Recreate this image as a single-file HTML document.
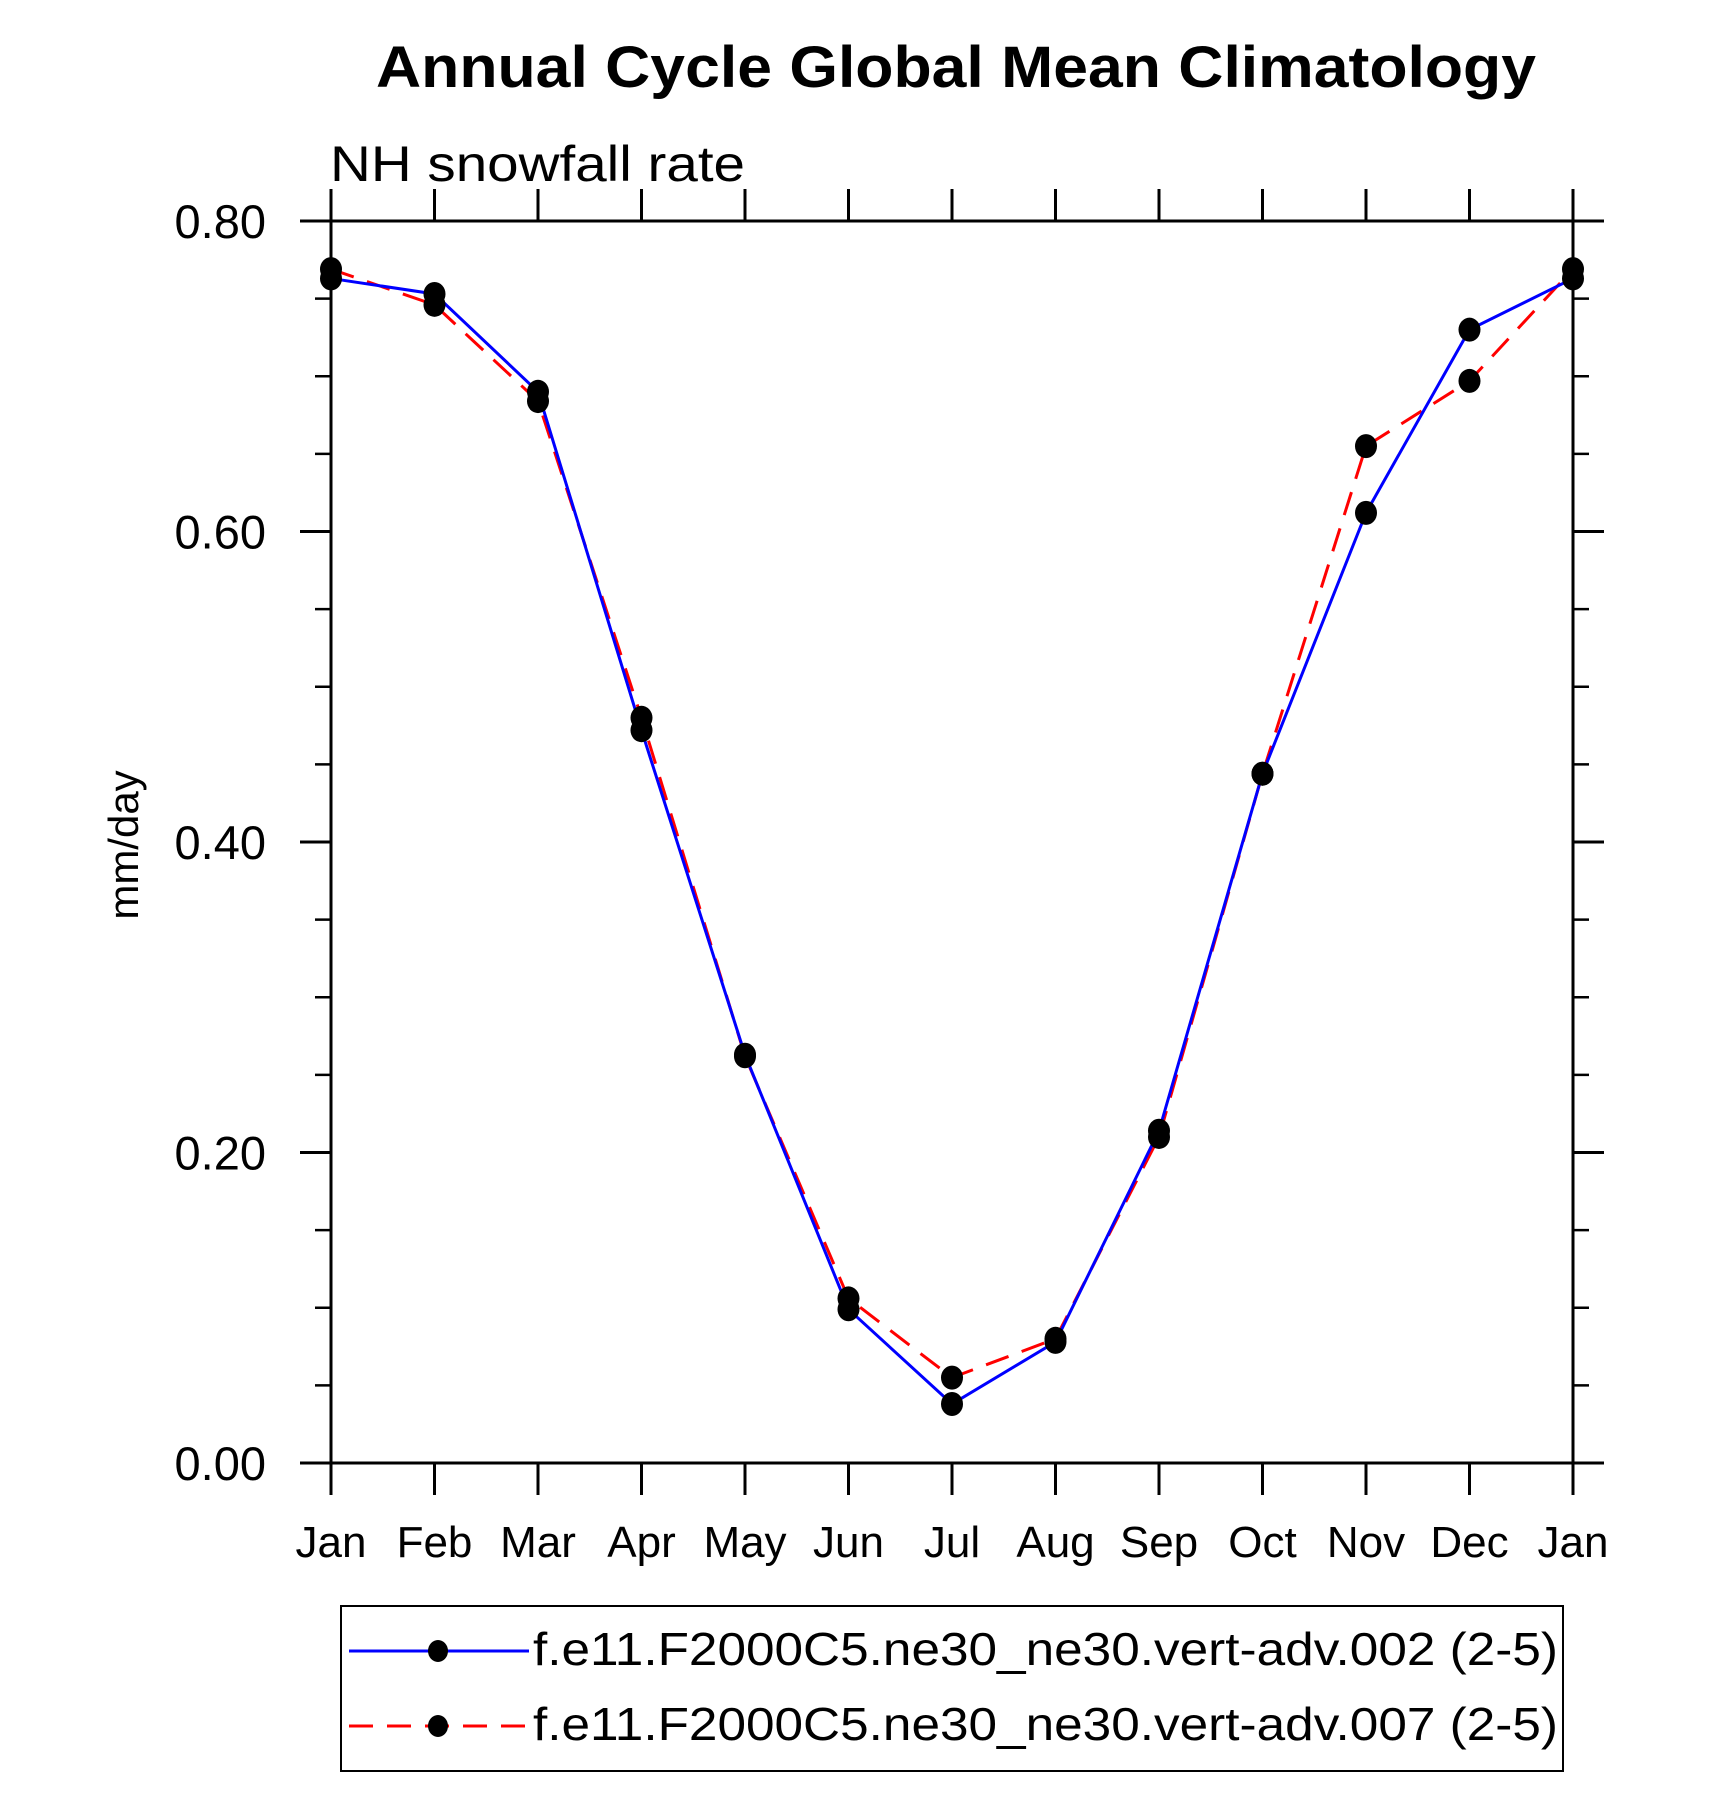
<!DOCTYPE html>
<html><head><meta charset="utf-8"><style>html,body{margin:0;padding:0;background:#fff}svg{display:block}</style></head>
<body>
<svg id="chart" width="1710" height="1813" viewBox="0 0 1710 1813" xmlns="http://www.w3.org/2000/svg" font-family="'Liberation Sans', Arial, sans-serif">
<text x="956" y="87" font-size="58" font-weight="bold" text-anchor="middle" textLength="1160" lengthAdjust="spacingAndGlyphs">Annual Cycle Global Mean Climatology</text>
<text x="330" y="181" font-size="50" textLength="415" lengthAdjust="spacingAndGlyphs">NH snowfall rate</text>
<text transform="translate(138,845) rotate(-90)" font-size="42" text-anchor="middle">mm/day</text>
<g id="axes"></g>
<g id="series"></g>
<g>
<rect x="341" y="1606" width="1222" height="165" fill="none" stroke="#000" stroke-width="2"/>
<g>
<line x1="349" y1="1651" x2="529" y2="1651" stroke="#0000ff" stroke-width="3"/>
<ellipse cx="438" cy="1651" rx="10" ry="11" fill="#000"/>
<text x="533" y="1665" font-size="46" textLength="1025" lengthAdjust="spacingAndGlyphs">f.e11.F2000C5.ne30_ne30.vert-adv.002 (2-5)</text>
</g>
<g>
<line x1="349" y1="1726" x2="529" y2="1726" stroke="#ff0000" stroke-width="3" stroke-dasharray="24,14"/>
<ellipse cx="438" cy="1726" rx="10" ry="11" fill="#000"/>
<text x="533" y="1740" font-size="46" textLength="1025" lengthAdjust="spacingAndGlyphs">f.e11.F2000C5.ne30_ne30.vert-adv.007 (2-5)</text>
</g>
</g>
</svg>
<script>
const months = ["Jan","Feb","Mar","Apr","May","Jun","Jul","Aug","Sep","Oct","Nov","Dec","Jan"];
const run002 = [0.763,0.753,0.690,0.472,0.263,0.099,0.038,0.078,0.214,0.444,0.612,0.730,0.763];
const run007 = [0.769,0.746,0.684,0.480,0.262,0.106,0.055,0.080,0.210,0.444,0.655,0.697,0.769];
const yTicks = [0,0.2,0.4,0.6,0.8];
const yTickLabels = ["0.00","0.20","0.40","0.60","0.80"];
const yMinor = [0.05,0.1,0.15,0.25,0.3,0.35,0.45,0.5,0.55,0.65,0.7,0.75];

const NS = "http://www.w3.org/2000/svg";
const X0 = 331, X1 = 1573, FL = 300, FR = 1604, YT = 221, YB = 1463;
const xs = i => X0 + (X1 - X0) * i / (months.length - 1);
const ys = v => YB - (YB - YT) * v / 0.8;
function mk(tag, attrs, parent) { const e = document.createElementNS(NS, tag); for (const k in attrs) e.setAttribute(k, attrs[k]); parent.appendChild(e); return e; }
const ax = document.getElementById("axes");
const line = (x1,y1,x2,y2,w) => mk("line",{x1,y1,x2,y2,stroke:"#000","stroke-width":w||3},ax);
let e;
e = line(FL,YT,FR,YT);  
e = line(FL,YB,FR,YB);  
e = line(X0,YT,X0,YB);  
e = line(X1,YT,X1,YB);  
months.forEach((m,i) => {
  const x = xs(i);
  e = line(x,YB,x,YB+32);  
  e = line(x,YT,x,YT-32);  
  const t = mk("text",{x:x,y:1557,"font-size":44,"text-anchor":"middle"},ax); t.textContent = m;
  
  
});
yTicks.forEach((v,i) => {
  const y = ys(v);
  e = line(FL,y,X0,y);  
  e = line(X1,y,FR,y);  
  const t = mk("text",{x:266,y:y+17,"font-size":47,"text-anchor":"end"},ax); t.textContent = yTickLabels[i];
  
  
});
yMinor.forEach(v => {
  const y = ys(v);
  e = line(X0-16,y,X0,y,2.5);  
  e = line(X1,y,X1+16,y,2.5);  
});
const sg = document.getElementById("series");
function drawSeries(vals, color, dash, name) {
  const pts = vals.map((v,i) => xs(i)+","+ys(v)).join(" ");
  const pl = mk("polyline",{points:pts,fill:"none",stroke:color,"stroke-width":3,"stroke-dasharray":dash},sg);
  
  
  return vals;
}
function drawDots(vals, name) {
  vals.forEach((v,i) => {
    const c = mk("ellipse",{cx:xs(i),cy:ys(v),rx:11,ry:12,fill:"#000"},sg);
    
    
  });
}
drawSeries(run007,"#ff0000","24,14","run-007");
drawSeries(run002,"#0000ff","none","run-002");
drawDots(run007,"run-007");
drawDots(run002,"run-002");
</script>
</body></html>
